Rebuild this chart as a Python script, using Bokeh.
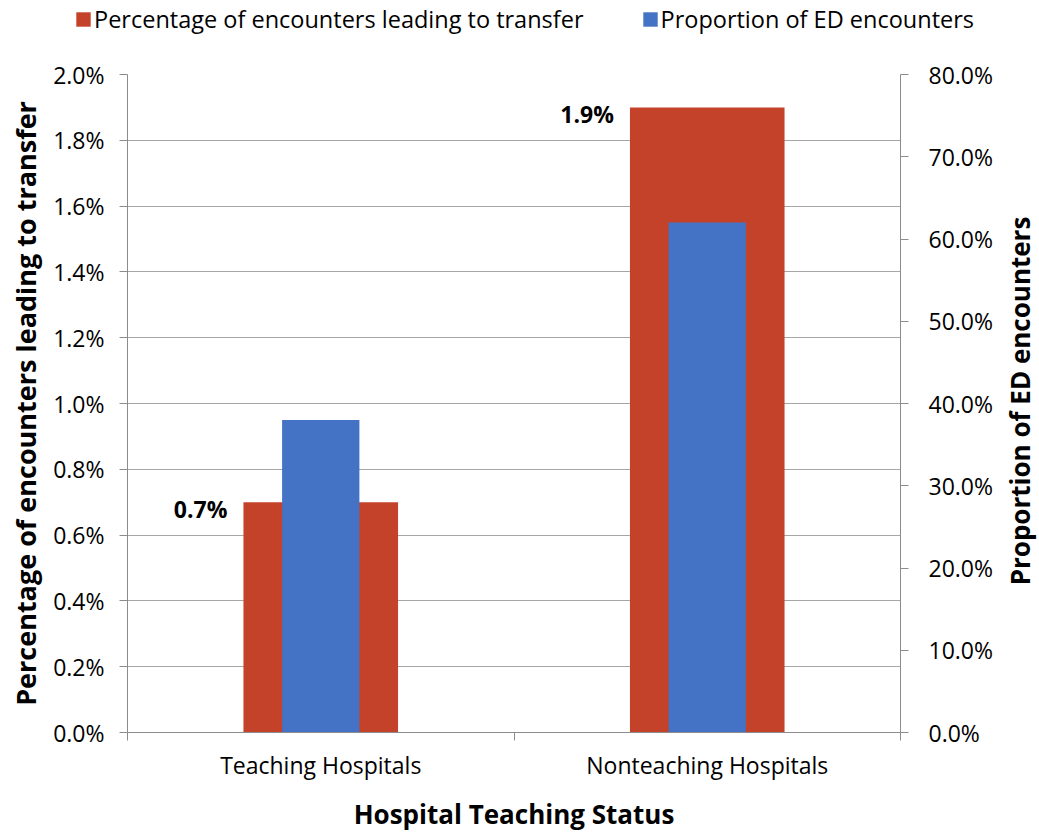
import math
from bokeh.plotting import figure
from bokeh.layouts import column, row
from bokeh.models import (Range1d, LinearAxis, FixedTicker, NumeralTickFormatter,
                          Legend, LegendItem, Label)
from bokeh.core.properties import value
from bokeh.embed import file_html
from bokeh.resources import INLINE

# ---- data ----
categories = ["Teaching Hospitals", "Nonteaching Hospitals"]
transfer_pct = [0.007, 0.019]          # percentage of encounters leading to transfer
ed_share = [0.38, 0.62]                # proportion of ED encounters
transfer_labels = ["0.7%", "1.9%"]
left_ticks = [0.0, 0.002, 0.004, 0.006, 0.008, 0.010, 0.012, 0.014, 0.016, 0.018, 0.020]
right_ticks = [0.0, 0.1, 0.2, 0.3, 0.4, 0.5, 0.6, 0.7, 0.8]
series_names = ["Percentage of encounters leading to transfer", "Proportion of ED encounters"]
x_title = "Hospital Teaching Status"

# ---- style ----
FONT = "Open Sans"
RED = "#C4422A"
BLUE = "#4472C4"
AXIS_GRAY = "#8C8C8C"
GRID_GRAY = "#A6A6A6"
RED_W = 0.4
BLUE_W = 0.2

W, H = 1039, 834
LEG_H = 44
SIDE_W = 39
MAIN_W = W - SIDE_W
MAIN_H = H - LEG_H

xpos = [i + 0.5 for i in range(len(categories))]
bounds = [float(i) for i in range(len(categories) + 1)]

# ---------------- main chart ----------------
p = figure(width=MAIN_W, height=MAIN_H, output_backend="svg", toolbar_location=None,
           x_range=Range1d(0, len(categories)), y_range=Range1d(0, 0.02),
           min_border_left=127, min_border_right=100, min_border_top=30,
           min_border_bottom=98)
p.outline_line_color = None
p.background_fill_color = "white"
p.border_fill_color = "white"
p.extra_y_ranges = {"share": Range1d(0, 0.8)}

r1 = p.vbar(x=xpos, top=transfer_pct, width=RED_W, color=RED, line_color=None)
r2 = p.vbar(x=xpos, top=ed_share, width=BLUE_W, color=BLUE, line_color=None,
            y_range_name="share")

p.text(x=[x - RED_W / 2 for x in xpos], y=transfer_pct, text=transfer_labels,
       x_offset=-16, y_offset=7, text_align="right", text_baseline="middle",
       text_font=value(FONT), text_font_style="bold", text_font_size="23px",
       text_color="black")

# grid
p.xgrid.visible = False
p.ygrid.ticker = FixedTicker(ticks=left_ticks)
p.ygrid.grid_line_color = GRID_GRAY
p.ygrid.grid_line_width = 1

# left axis
ya = p.yaxis[0]
ya.ticker = FixedTicker(ticks=left_ticks)
ya.formatter = NumeralTickFormatter(format="0.0%")
ya.axis_label = series_names[0]

# right axis (its title is drawn in the side strip so it reads bottom-to-top)
yr = LinearAxis(y_range_name="share", ticker=FixedTicker(ticks=right_ticks),
                formatter=NumeralTickFormatter(format="0.0%"))
p.add_layout(yr, "right")

for ax in (ya, yr):
    ax.axis_line_color = AXIS_GRAY
    ax.major_tick_line_color = AXIS_GRAY
    ax.major_tick_out = 8
    ax.major_tick_in = 0
    ax.minor_tick_line_color = None
    ax.major_label_text_font = FONT
    ax.major_label_text_font_size = "23px"
    ax.major_label_text_color = "black"

ya.major_label_standoff = 15
ya.axis_label_text_font = FONT
ya.axis_label_text_font_style = "bold"
ya.axis_label_text_color = "black"
ya.axis_label_text_font_size = "27px"
ya.axis_label_standoff = 6
yr.major_label_standoff = 20

# bottom axis
xa = p.xaxis[0]
xa.ticker = FixedTicker(ticks=xpos, minor_ticks=bounds)
xa.major_label_overrides = {x: c for x, c in zip(xpos, categories)}
xa.axis_line_color = AXIS_GRAY
xa.major_tick_line_color = None
xa.major_tick_out = 0
xa.major_tick_in = 0
xa.minor_tick_line_color = AXIS_GRAY
xa.minor_tick_out = 8
xa.minor_tick_in = 0
xa.major_label_text_font = FONT
xa.major_label_text_font_size = "23px"
xa.major_label_text_color = "black"
xa.major_label_standoff = 8
xa.axis_label = x_title
xa.axis_label_text_font = FONT
xa.axis_label_text_font_style = "bold"
xa.axis_label_text_font_size = "26px"
xa.axis_label_text_color = "black"
xa.axis_label_standoff = 12

# ---------------- right title strip ----------------
side = figure(width=SIDE_W, height=MAIN_H, output_backend="svg", toolbar_location=None,
              x_range=Range1d(0, SIDE_W), y_range=Range1d(0, MAIN_H),
              x_axis_location=None, y_axis_location=None, min_border=0)
side.outline_line_color = None
side.grid.visible = False
side.add_layout(Label(x=SIDE_W / 2, y=MAIN_H - 392, text=series_names[1],
                      angle=math.pi / 2, text_align="center", text_baseline="middle",
                      text_font=FONT, text_font_style="bold", text_font_size="26px",
                      text_color="black"))

# ---------------- legend strip ----------------
# the same series are drawn here only to provide legend swatches; the strip's
# y-range sits above the data so the bars themselves stay out of view
leg = figure(width=W, height=LEG_H, output_backend="svg", toolbar_location=None,
             x_range=Range1d(0, len(categories)), y_range=Range1d(1, 2),
             x_axis_location=None, y_axis_location=None, min_border=0)
leg.outline_line_color = None
leg.grid.visible = False
g1 = leg.vbar(x=xpos, top=transfer_pct, width=RED_W, color=RED, line_color=None)
g2 = leg.vbar(x=xpos, top=ed_share, width=BLUE_W, color=BLUE, line_color=None)
legend = Legend(items=[LegendItem(label=series_names[0], renderers=[g1]),
                       LegendItem(label=series_names[1], renderers=[g2])],
                orientation="horizontal", location=(74, 9),
                glyph_width=18, glyph_height=18, label_standoff=2, spacing=57,
                padding=0, margin=0, border_line_color=None,
                background_fill_alpha=0, label_height=30,
                label_text_font=FONT, label_text_font_size="23.5px",
                label_text_color="black")
leg.add_layout(legend)

layout = column(leg, row(p, side, spacing=0), spacing=0)
open("out.html", "w").write(file_html(layout, INLINE))
